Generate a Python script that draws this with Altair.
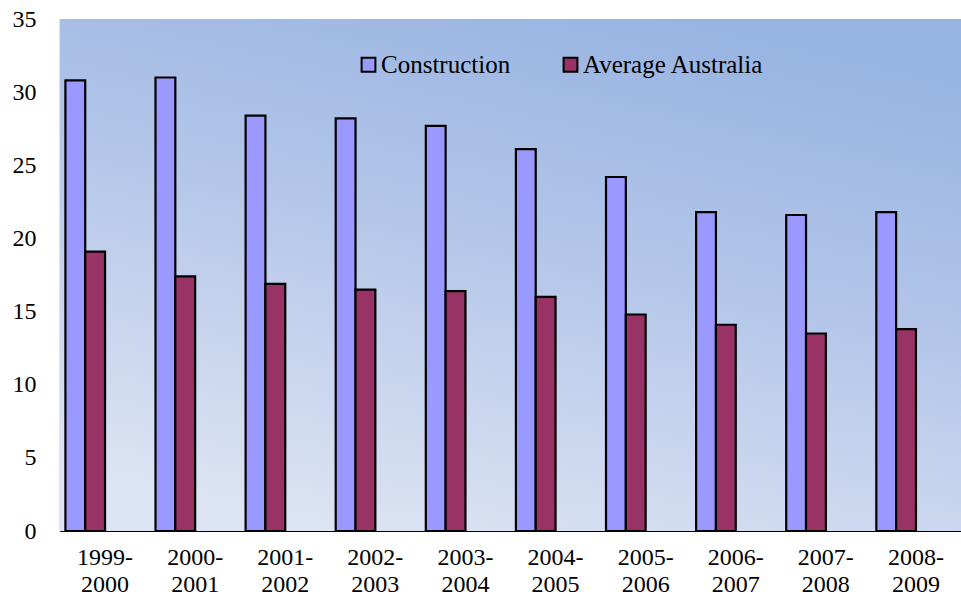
import altair as alt
import pandas as pd

periods = ["1999-\n2000", "2000-\n2001", "2001-\n2002", "2002-\n2003", "2003-\n2004",
           "2004-\n2005", "2005-\n2006", "2006-\n2007", "2007-\n2008", "2008-\n2009"]
construction = [30.8, 31.0, 28.4, 28.2, 27.7, 26.1, 24.2, 21.8, 21.6, 21.8]
average_australia = [19.1, 17.4, 16.9, 16.5, 16.4, 16.0, 14.8, 14.1, 13.5, 13.8]
series = ["Construction", "Average Australia"]
colors = ["#9999FF", "#993366"]

rows = []
for i, p in enumerate(periods):
    rows.append({"period": p, "order": i, "series": series[0], "value": construction[i]})
    rows.append({"period": p, "order": i, "series": series[1], "value": average_australia[i]})
df = pd.DataFrame(rows)

W, H = 901, 512
FONT = "Times New Roman, Liberation Serif, DejaVu Serif, serif"

bg = alt.Chart(pd.DataFrame({"a": [0]})).mark_rect(
    color=alt.Gradient(
        gradient="linear",
        stops=[alt.GradientStop(color="#DDE4F3", offset=0),
               alt.GradientStop(color="#B0C4E8", offset=0.6),
               alt.GradientStop(color="#98B4E2", offset=1)],
        x1=0.3, y1=1, x2=0.7, y2=0,
    )
).encode(x=alt.value(0), x2=alt.value(W), y=alt.value(0), y2=alt.value(H))

bars = alt.Chart(df).mark_bar(stroke="black", strokeWidth=2.2).encode(
    x=alt.X("period:N", sort=periods,
            scale=alt.Scale(paddingInner=0.12, paddingOuter=0.06),
            axis=alt.Axis(title=None, labelAngle=0, ticks=False, domainColor="black",
                          domainWidth=1.2, labelFont=FONT, labelFontSize=24,
                          labelColor="black", labelLineHeight=27, labelPadding=14,
                          labelLimit=300,
                          labelBaseline="top", labelExpr="split(datum.label, '\\n')")),
    xOffset=alt.XOffset("series:N",
                        scale=alt.Scale(domain=series + ["_e1", "_e2"], paddingInner=0, paddingOuter=0)),
    y=alt.Y("value:Q", scale=alt.Scale(domain=[0, 35], nice=False),
            axis=alt.Axis(title=None, values=[0, 5, 10, 15, 20, 25, 30, 35], grid=False,
                          ticks=False, domainColor="black", domainWidth=1.2,
                          labelFont=FONT, labelFontSize=24, labelColor="black",
                          labelPadding=24)),
    color=alt.Color("series:N", sort=series,
                    scale=alt.Scale(domain=series, range=colors),
                    legend=alt.Legend(title=None, orient="none", legendX=296, legendY=33,
                                      direction="horizontal", symbolType="square",
                                      symbolSize=190, symbolStrokeColor="black",
                                      symbolStrokeWidth=2, labelFont=FONT,
                                      labelFontSize=25, labelColor="black",
                                      labelLimit=400,
                                      labelOffset=0, columnPadding=47, padding=0)),
)

chart = alt.layer(bg, bars).properties(
    width=W, height=H,
    padding={"left": 60, "top": 19, "right": 0, "bottom": 67},
    autosize=alt.AutoSizeParams(type="none"),
).configure_view(stroke=None).configure(background="white", font=FONT)

chart.save("out.html", embed_options={"renderer": "svg", "actions": False})
